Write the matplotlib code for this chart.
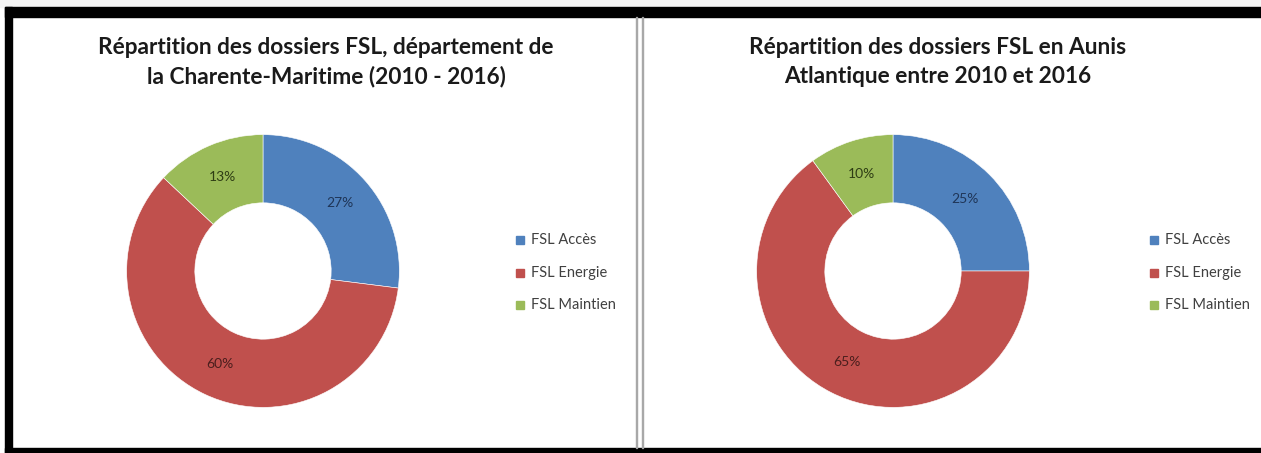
import numpy as np
import matplotlib
matplotlib.use("Agg")
import matplotlib.pyplot as plt
from matplotlib.patches import Rectangle

plt.rcParams["font.family"] = ["Lato", "DejaVu Sans"]

# données
categories = ["FSL Accès", "FSL Energie", "FSL Maintien"]
vals_cm = [27, 60, 13]        # Charente-Maritime
vals_aa = [25, 65, 10]        # Aunis Atlantique
titles = ["Répartition des dossiers FSL, département de\nla Charente-Maritime (2010 - 2016)",
          "Répartition des dossiers FSL en Aunis\nAtlantique entre 2010 et 2016"]

couleurs = ["#4F81BD", "#C0504D", "#9BBB59"]
couleurs_txt = ["#1F3557", "#4A1E1D", "#2E3D14"]

W, H = 1261, 453
fig = plt.figure(figsize=(W / 100, H / 100), dpi=100)
fig.patch.set_facecolor("white")


def px(x, y):
    # pixels (origine en haut à gauche) -> coordonnées figure
    return x / W, 1 - y / H


def rect(x0, y0, x1, y1, color):
    fx, fy = px(x0, y1)
    fig.patches.append(Rectangle((fx, fy), (x1 - x0) / W, (y1 - y0) / H,
                                 transform=fig.transFigure, color=color, zorder=0))


# cadre noir
rect(0, 0, W, 7, "#f4f4f4")
rect(5, 7, W, 17, "black")
rect(5, 7, 12, H, "black")
rect(5, 448, W, H, "black")
# séparation des deux graphiques
rect(635.5, 17, 636.8, 448, "#a8a8a8")
rect(641.5, 17, 642.8, 448, "#a8a8a8")


def donut(cx, title_x, legend_x, values, title):
    cy, half = 271, 150
    x0, y0 = px(cx - half, cy + half)
    ax = fig.add_axes([x0, y0, 2 * half / W, 2 * half / H])
    wedges, texts, autotexts = ax.pie(
        values, colors=couleurs, startangle=90, counterclock=False, radius=1,
        autopct="%.0f%%", pctdistance=0.75,
        wedgeprops=dict(width=0.5, edgecolor="white", linewidth=0.4))
    for t, c in zip(autotexts, couleurs_txt):
        t.set_color(c)
        t.set_fontsize(10)
    ax.set_xlim(-1.1, 1.1)
    ax.set_ylim(-1.1, 1.1)
    ax.set_aspect("auto")
    ax.axis("off")

    tx, ty = px(title_x, 62)
    fig.text(tx, ty, title, ha="center", va="center", fontsize=16.3,
             fontweight="bold", color="#1a1a1a", linespacing=1.45)

    for i, lab in enumerate(categories):
        y = 240 + i * 32.5
        rect(legend_x, y - 4, legend_x + 8, y + 4, couleurs[i])
        lx, ly = px(legend_x + 15, y)
        fig.text(lx, ly, lab, ha="left", va="center", fontsize=10.5, color="#404040")


donut(263, 326, 516, vals_cm, titles[0])
donut(893, 938, 1150, vals_aa, titles[1])

plt.savefig("out.png", dpi=100)
